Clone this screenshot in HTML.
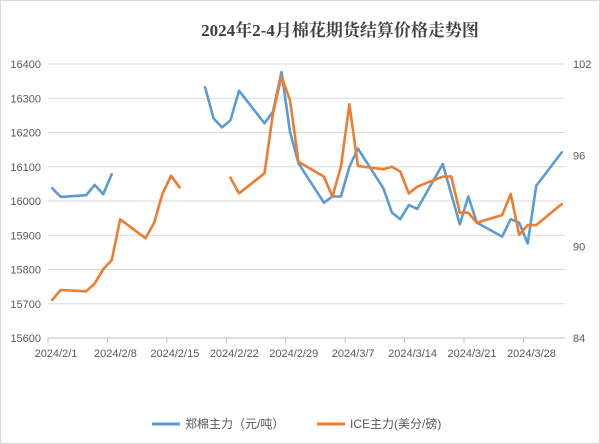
<!DOCTYPE html>
<html><head><meta charset="utf-8"><style>
html,body{margin:0;padding:0;background:#fff}
#wrap{width:600px;height:444px;position:relative;overflow:hidden}
svg{position:absolute;left:0;top:0}
</style></head><body>
<div id="wrap">
<svg id="c" width="600" height="444" xmlns="http://www.w3.org/2000/svg">
<rect x="0.5" y="0.5" width="599" height="443" fill="#fff" stroke="#d9d9d9"/>
<text x="340" y="36" text-anchor="middle" font-family="'Liberation Serif','Noto Serif CJK SC',serif" font-weight="bold" font-size="17" fill="#404040">2024年2-4月棉花期货结算价格走势图</text>
<g>
<line x1="152" y1="424" x2="180" y2="424" stroke="#5B9BD5" stroke-width="3"/>
<text x="185" y="428" font-family="'Liberation Sans','Noto Sans CJK SC',sans-serif" font-size="12" fill="#595959">郑棉主力（元/吨）</text>
<line x1="317" y1="424" x2="345" y2="424" stroke="#ED7D31" stroke-width="3"/>
<text x="350" y="428" font-family="'Liberation Sans','Noto Sans CJK SC',sans-serif" font-size="12" fill="#595959">ICE主力(美分/磅)</text>
</g>
</svg>
</div>
<script>
const days = [0,1,4,5,6,7,8,11,12,13,14,15,18,19,20,21,22,25,26,27,28,29,32,33,34,35,36,39,40,41,42,43,46,47,48,49,50,53,54,55,56,57,60];
const zhengmian = [16037,16012,16017,16047,16020,16078,null,null,null,null,null,null,16332,16241,16215,16236,16322,16227,16261,16377,16202,16110,15995,16013,16013,16100,16153,16037,15966,15947,15988,15977,16108,16020,15932,16013,15937,15896,15947,15937,15876,16044,16142];
const ice = [86.50,87.15,87.07,87.59,88.51,89.12,91.8,90.55,91.57,93.5,94.66,93.9,null,null,null,94.53,93.5,94.82,98.76,101.17,99.63,95.58,94.6,93.28,95.25,99.35,95.3,95.08,95.25,94.93,93.5,93.94,94.6,94.6,92.23,92.23,91.57,92.08,93.46,90.77,91.42,91.42,92.8];
const leftTicks = [15600,15700,15800,15900,16000,16100,16200,16300,16400];
const rightTicks = [84,90,96,102];
const xLabels = ["2024/2/1","2024/2/8","2024/2/15","2024/2/22","2024/2/29","2024/3/7","2024/3/14","2024/3/21","2024/3/28"];

const NS="http://www.w3.org/2000/svg";
const svg=document.getElementById('c');
const TOP=64,BOT=338,LEFT=48,RIGHT=565,DAYW=8.49;
const xs=d=>LEFT+4.25+d*DAYW;
const yL=v=>BOT-(v-15600)/800*(BOT-TOP);
const yR=v=>BOT-(v-84)/18*(BOT-TOP);
function el(t,a){const e=document.createElementNS(NS,t);for(const k in a)e.setAttribute(k,a[k]);return e;}
const FONT="'Liberation Sans','Noto Sans CJK SC',sans-serif";

const grid=el('g',{});


svg.appendChild(grid);
leftTicks.forEach(v=>{
  const y=yL(v);
  const l=el('line',{x1:LEFT,x2:RIGHT,y1:y,y2:y,stroke:v===15600?'#bfbfbf':'#d9d9d9','stroke-width':1});
  
  
  grid.appendChild(l);
  const t=el('text',{x:41,y:y+4,'text-anchor':'end','font-family':FONT,'font-size':11,fill:'#595959'});
  t.textContent=v;
  
  
  svg.appendChild(t);
});
rightTicks.forEach(v=>{
  const t=el('text',{x:573,y:yR(v)+4,'font-family':FONT,'font-size':11,fill:'#595959'});
  t.textContent=v;
  
  
  svg.appendChild(t);
});
xLabels.forEach((s,i)=>{
  const tx=LEFT+i*7*DAYW;
  const tk=el('line',{x1:tx,x2:tx,y1:BOT,y2:BOT+5,stroke:'#bfbfbf'});
  
  
  svg.appendChild(tk);
  const t=el('text',{x:tx+8,y:357,'text-anchor':'middle','font-family':FONT,'font-size':11,fill:'#595959'});
  t.textContent=s;
  
  
  svg.appendChild(t);
});
function series(vals,yf,color,name){
  let d='',pen=false;
  vals.forEach((v,i)=>{
    if(v===null){pen=false;return;}
    d+=(pen?'L':'M')+xs(days[i]).toFixed(1)+' '+yf(v).toFixed(1)+' ';
    pen=true;
  });
  const p=el('path',{d:d,fill:'none',stroke:color,'stroke-width':2.6,'stroke-linejoin':'round','stroke-linecap':'round'});
  
  
  svg.appendChild(p);
}
series(zhengmian,yL,'#5B9BD5','series-zhengmian-line');
series(ice,yR,'#ED7D31','series-ice-line');
</script>
</body></html>
